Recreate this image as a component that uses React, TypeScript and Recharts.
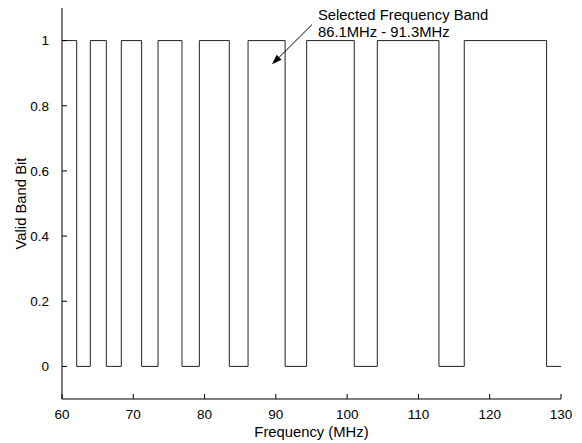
import { LineChart, Line, XAxis, YAxis, ReferenceLine, Label } from "recharts";

// band edges (MHz) and the valid bit that starts at each edge
const freqEdges = [60, 62.06, 63.97, 66.22, 68.32, 71.17, 73.47, 76.83, 79.27, 83.47, 86.1, 91.3, 94.32, 101.0, 104.23, 112.88, 116.43, 127.98, 130];
const validBits = [1, 0, 1, 0, 1, 0, 1, 0, 1, 0, 1, 0, 1, 0, 1, 0, 1, 0, 0];

const xTicks = [60, 70, 80, 90, 100, 110, 120, 130];
const yTicks = [0, 0.2, 0.4, 0.6, 0.8, 1];

const annotationLines = ["Selected Frequency Band", "86.1MHz - 91.3MHz"];
const arrowTail = { x: 95.07, y: 1.049 };
const arrowHead = { x: 89.46, y: 0.927 };

const FONT = "Liberation Sans, Arial, sans-serif";
const TICK_LEN = 5;

const data = freqEdges.map((f, i) => ({ freq: f, bit: validBits[i] }));

const BottomTick = (props: any) => {
  const { x, y, payload } = props;
  return (
    <g>
      <line x1={x} y1={y} x2={x} y2={y - TICK_LEN} stroke="#000" />
      <text x={x} y={y + 10} dy="0.71em" textAnchor="middle" fontSize={13.5} fill="#000" fontFamily={FONT}>
        {payload.value}
      </text>
    </g>
  );
};

const TopTick = (props: any) => {
  const { x, y } = props;
  return <line x1={x} y1={y} x2={x} y2={y + TICK_LEN} stroke="#000" />;
};

const LeftTick = (props: any) => {
  const { x, y, payload } = props;
  return (
    <g>
      <line x1={x} y1={y} x2={x + TICK_LEN} y2={y} stroke="#000" />
      <text x={x - 13} y={y} dy="0.355em" textAnchor="end" fontSize={13.5} fill="#000" fontFamily={FONT}>
        {payload.value}
      </text>
    </g>
  );
};

const RightTick = (props: any) => {
  const { x, y } = props;
  return <line x1={x} y1={y} x2={x - TICK_LEN} y2={y} stroke="#000" />;
};

const Arrow = (props: any) => {
  const { x1, y1, x2, y2 } = props;
  // arrow drawn from tail (x1,y1) to head (x2,y2)
  const ang = Math.atan2(y2 - y1, x2 - x1);
  const len = 10;
  const half = 3.5;
  const bx = x2 - len * Math.cos(ang);
  const by = y2 - len * Math.sin(ang);
  const px = -Math.sin(ang) * half;
  const py = Math.cos(ang) * half;
  return (
    <g>
      <line x1={x1} y1={y1} x2={bx} y2={by} stroke="#000" />
      <polygon points={`${x2},${y2} ${bx + px},${by + py} ${bx - px},${by - py}`} fill="#000" />
      {annotationLines.map((t, i) => (
        <text key={t} x={x1 + 6} y={y1 - 5 + i * 17} fontSize={14.8} fill="#000" fontFamily={FONT}>
          {t}
        </text>
      ))}
    </g>
  );
};

export default function App() {
  return (
    <div style={{ position: "absolute", left: 0, top: 0, background: "#fff", fontFamily: FONT }}>
      <LineChart width={582} height={443} data={data} margin={{ top: 8, right: 21, bottom: 0, left: 12 }}>
        <XAxis
          dataKey="freq"
          type="number"
          domain={[60, 130]}
          ticks={xTicks}
          tick={<BottomTick />}
          tickSize={0}
          tickMargin={0}
          tickLine={false}
          axisLine={{ stroke: "#000" }}
          height={44}
          allowDataOverflow
        >
          <Label value="Frequency (MHz)" position="insideBottom" offset={6.5} fontSize={14.8} fill="#000" fontFamily={FONT} />
        </XAxis>
        <XAxis
          xAxisId="top"
          orientation="top"
          type="number"
          domain={[60, 130]}
          ticks={xTicks}
          tick={<TopTick />}
          tickSize={0}
          tickMargin={0}
          tickLine={false}
          axisLine={{ stroke: "#000" }}
          height={0}
          allowDataOverflow
        />
        <YAxis
          type="number"
          domain={[-0.1, 1.1]}
          ticks={yTicks}
          tick={<LeftTick />}
          tickSize={0}
          tickMargin={0}
          tickLine={false}
          axisLine={{ stroke: "#000" }}
          width={50}
          allowDataOverflow
        >
          <Label value="Valid Band Bit" angle={-90} position="insideLeft" offset={9} fontSize={14.8} fill="#000" fontFamily={FONT} style={{ textAnchor: "middle" }} />
        </YAxis>
        <YAxis
          yAxisId="right"
          orientation="right"
          type="number"
          domain={[-0.1, 1.1]}
          ticks={yTicks}
          tick={<RightTick />}
          tickSize={0}
          tickMargin={0}
          tickLine={false}
          axisLine={{ stroke: "#000" }}
          width={0}
          allowDataOverflow
        />
        <Line
          type="stepAfter"
          dataKey="bit"
          stroke="#222"
          strokeWidth={1}
          dot={false}
          isAnimationActive={false}
        />
        <ReferenceLine segment={[arrowTail, arrowHead]} shape={<Arrow />} ifOverflow="visible" />
      </LineChart>
    </div>
  );
}
